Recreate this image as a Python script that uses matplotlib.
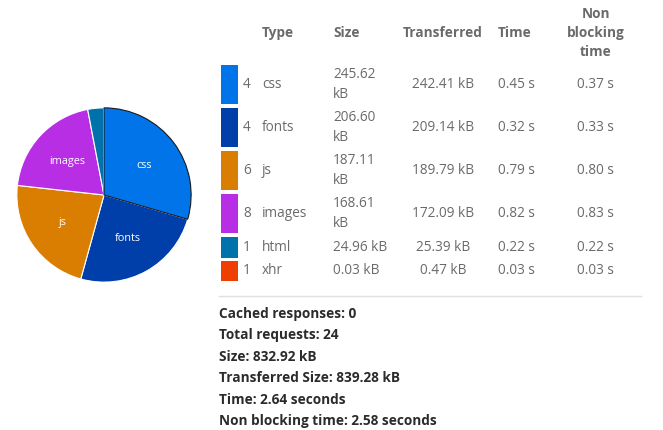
import numpy as np
import matplotlib
matplotlib.use('Agg')
import matplotlib.pyplot as plt

plt.rcParams['font.family'] = ['Open Sans', 'DejaVu Sans']

types = ['css', 'fonts', 'js', 'images', 'html', 'xhr']
counts = [4, 4, 6, 8, 1, 1]
size_kb = [245.62, 206.60, 187.11, 168.61, 24.96, 0.03]
transferred_kb = [242.41, 209.14, 189.79, 172.09, 25.39, 0.47]
time_s = [0.45, 0.32, 0.79, 0.82, 0.22, 0.03]
nonblock_s = [0.37, 0.33, 0.80, 0.83, 0.22, 0.03]
colors = ['#0074e8', '#003eaa', '#d97e00', '#b82ee5', '#0072ab', '#ef3f00']

summary = ['Cached responses: 0', 'Total requests: 24', 'Size: 832.92 kB',
           'Transferred Size: 839.28 kB', 'Time: 2.64 seconds',
           'Non blocking time: 2.58 seconds']

W, H = 663, 430
fig = plt.figure(figsize=(W / 100, H / 100), dpi=100)
ax = fig.add_axes([0, 0, 1, 1])
ax.set_xlim(0, W); ax.set_ylim(H, 0); ax.axis('off')

# pie
pax = fig.add_axes([16 / W, 1 - 283 / H, 176 / W, 176 / H])
wedges, _ = pax.pie(size_kb, colors=colors, startangle=90, counterclock=False,
                    wedgeprops=dict(edgecolor='white', linewidth=0.8))
wedges[0].set_edgecolor('#1a1a1a'); wedges[0].set_linewidth(0.8)
wedges[0].set_zorder(3)
for w, t in zip(wedges, types):
    if w.theta2 - w.theta1 < 20:
        continue
    a = np.deg2rad((w.theta1 + w.theta2) / 2)
    pax.text(0.57 * np.cos(a), 0.57 * np.sin(a), t, color='white',
             ha='center', va='center', fontsize=7.8)
pax.set_xlim(-1.01, 1.01); pax.set_ylim(-1.01, 1.01); pax.set_aspect('equal')

# table
gray = '#6a6a6a'
fs = 9.8
hdr = dict(color=gray, fontsize=fs, fontweight='bold', va='center')
ax.text(262, 33, 'Type', ha='left', **hdr)
ax.text(333, 33, 'Size', ha='left', **hdr)
ax.text(443, 33, 'Transferred', ha='center', **hdr)
ax.text(498, 33, 'Time', ha='left', **hdr)
ax.text(596, 33, 'Non\nblocking\ntime', ha='center', linespacing=1.42, **hdr)

row_top = [65, 108, 151, 194, 237, 261]
row_h = [39, 39, 39, 39, 21, 20]
cell = dict(color=gray, fontsize=fs, va='center')
for i in range(len(types)):
    y0, h = row_top[i], row_h[i]
    yc = y0 + h / 2
    ax.add_patch(plt.Rectangle((221, y0), 17, h, color=colors[i], lw=0))
    ax.text(243, yc, str(counts[i]), ha='left', **cell)
    ax.text(262, yc, types[i], ha='left', **cell)
    if h > 30:
        ax.text(333, yc, f'{size_kb[i]:.2f}\nkB', ha='left', linespacing=1.48, **cell)
    else:
        ax.text(333, yc, f'{size_kb[i]:.2f} kB', ha='left', **cell)
    ax.text(443, yc, f'{transferred_kb[i]:.2f} kB', ha='center', **cell)
    ax.text(498, yc, f'{time_s[i]:.2f} s', ha='left', **cell)
    ax.text(595, yc, f'{nonblock_s[i]:.2f} s', ha='center', **cell)

ax.plot([219, 641], [296, 296], color='#e0e0e0', lw=1)

for j, s in enumerate(summary):
    ax.text(219, 314 + j * 21.4, s, ha='left', va='center', color='#2b2b2b',
            fontsize=fs, fontweight='bold')

fig.savefig('out.png', dpi=100)
